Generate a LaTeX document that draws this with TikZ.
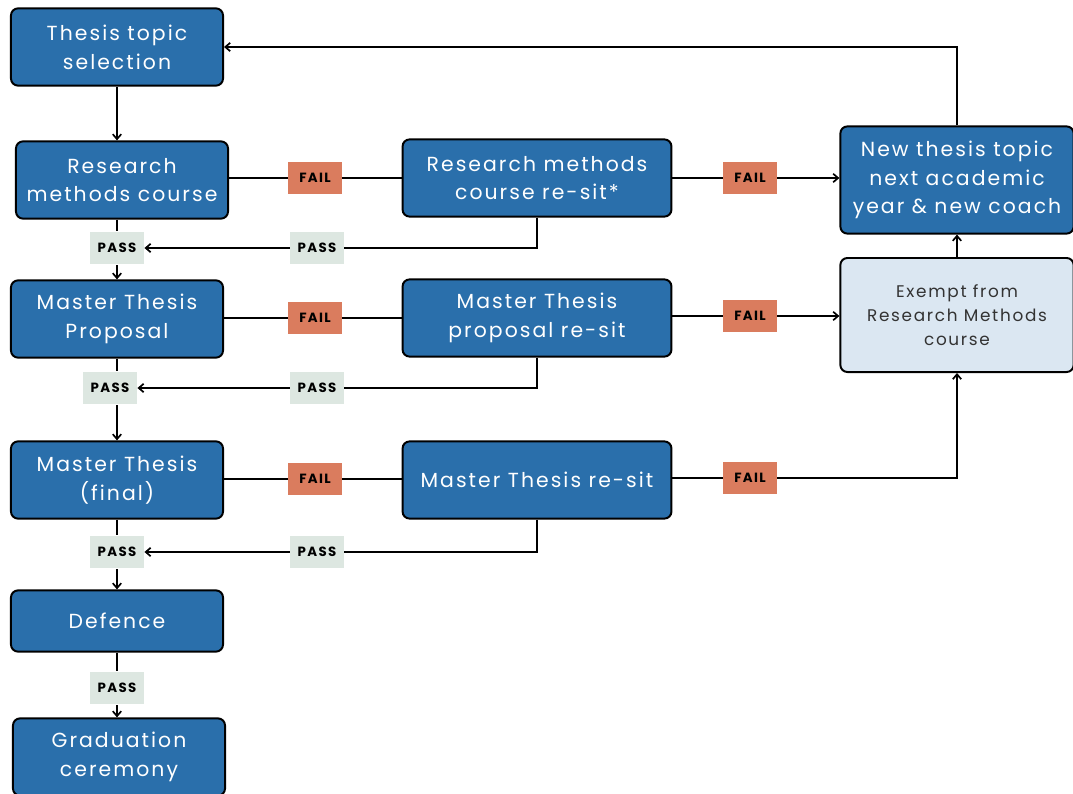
\documentclass[tikz,border=0pt]{standalone}
\usepackage{fontspec}
\setmainfont{Poppins}[LetterSpace=10]
\usetikzlibrary{arrows.meta}
\definecolor{boxblue}{RGB}{42,111,171}
\definecolor{paleblue}{RGB}{219,231,242}
\definecolor{failred}{RGB}{218,124,94}
\definecolor{passgrey}{RGB}{221,231,225}
\tikzset{
  box/.style={draw=black, line width=1.4pt, rounded corners=5pt, fill=boxblue,
    text=white, align=center, minimum width=5.3cm, minimum height=1.93cm,
    inner sep=0pt, font=\fontsize{14.5}{20.5}\selectfont},
  widebox/.style={box, minimum width=6.72cm},
  palebox/.style={box, fill=paleblue, text=black!80, font=\fontsize{12}{17}\selectfont},
  tag/.style={minimum width=1.33cm, minimum height=0.82cm, inner sep=0pt,
    font=\fontsize{9.5}{10}\selectfont\bfseries},
  failtag/.style={tag, fill=failred},
  passtag/.style={tag, fill=passgrey},
  arr/.style={-{Straight Barb[length=3.5pt,width=6pt]}},
}
\begin{document}
\begin{tikzpicture}[x=0.025cm, y=-0.025cm, line width=1.2pt]
  \useasboundingbox (0,0) rectangle (1073,794);
  % left column
  \node[box] (topic) at (117,47) {Thesis topic\\selection};
  \node[box] (rm) at (122,180) {Research\\methods course};
  \node[box] (prop) at (117,319) {Master Thesis\\Proposal};
  \node[box] (final) at (117,480) {Master Thesis\\(final)};
  \node[box, minimum height=1.53cm] (defence) at (117,621) {Defence};
  \node[box] (grad) at (119,757) {Graduation\\ceremony};
  % re-sits
  \node[widebox] (rmre) at (537,178) {Research methods\\course re-sit*};
  \node[widebox] (propre) at (537,318) {Master Thesis\\proposal re-sit};
  \node[widebox] (finalre) at (537,480) {Master Thesis re-sit};
  % right column
  \node[box, minimum width=5.83cm, minimum height=2.68cm] (newtopic) at (957,180)
    {New thesis topic\\next academic\\year \& new coach};
  \node[palebox, minimum width=5.83cm, minimum height=2.85cm] (exempt) at (957,315)
    {Exempt from\\Research Methods\\course};
  % fail tags
  \node[failtag] (f1) at (315,178) {FAIL};
  \node[failtag] (f2) at (750,178) {FAIL};
  \node[failtag] (f3) at (315,318) {FAIL};
  \node[failtag] (f4) at (750,316) {FAIL};
  \node[failtag] (f5) at (315,479) {FAIL};
  \node[failtag] (f6) at (750,478) {FAIL};
  % pass tags
  \node[passtag] (pl1) at (117,248) {PASS};
  \node[passtag] (pr1) at (317,248) {PASS};
  \node[passtag] (pl2) at (110,388) {PASS};
  \node[passtag] (pr2) at (317,388) {PASS};
  \node[passtag] (pl3) at (117,552) {PASS};
  \node[passtag] (pr3) at (317,552) {PASS};
  \node[passtag] (pl4) at (117,688) {PASS};
  % connectors
  \draw[arr] (topic) -- (topic |- rm.north);
  \draw (pl1 |- rm.south) -- (pl1);
  \draw[arr] (pl1) -- (prop);
  \draw (rm.east |- f1) -- (f1) -- (rmre.west |- f1);
  \draw[arr] (rmre.east |- f2) -- (f2) -- (f2 -| newtopic.west);
  \draw (rmre) |- (pr1);
  \draw[arr] (pr1) -- (pl1);
  \draw[arr] (newtopic) |- (topic);
  \draw[arr] (exempt) -- (newtopic);
  \draw (prop) -- (prop |- pl2.north);
  \draw[arr] (prop |- pl2.south) -- (final);
  \draw (prop.east |- f3) -- (f3) -- (propre.west |- f3);
  \draw[arr] (propre.east |- f4) -- (f4) -- (f4 -| exempt.west);
  \draw (propre) |- (pr2);
  \draw[arr] (pr2) -- (pl2);
  \draw (final) -- (pl3);
  \draw[arr] (pl3) -- (defence);
  \draw (final.east |- f5) -- (f5) -- (finalre.west |- f5);
  \draw[arr] (finalre.east |- f6) -- (f6) -| (exempt);
  \draw (finalre) |- (pr3);
  \draw[arr] (pr3) -- (pl3);
  \draw (defence) -- (pl4);
  \draw[arr] (pl4) -- (pl4 |- grad.north);
\end{tikzpicture}
\end{document}
